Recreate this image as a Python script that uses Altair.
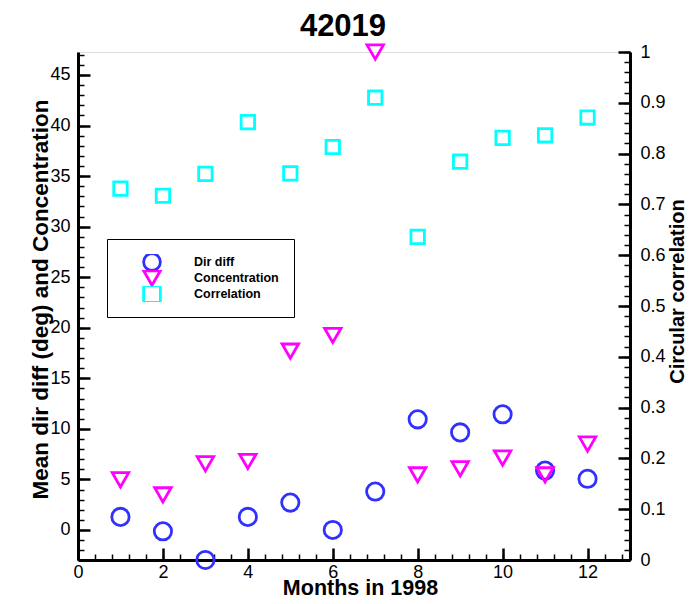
import altair as alt
import pandas as pd

# ---- data ----
MONTHS = [1, 2, 3, 4, 5, 6, 7, 8, 9, 10, 11, 12]
DIR_DIFF = [1.29, -0.13, -2.97, 1.29, 2.71, 0.0, 3.80, 10.94, 9.65, 11.44, 5.88, 5.06]
CONCENTRATION = [4.96, 3.47, 6.55, 6.78, 17.69, 19.24, 47.27, 5.45, 6.05, 7.11, 5.45, 8.50]
CORRELATION = [0.731, 0.717, 0.760, 0.862, 0.761, 0.813, 0.910, 0.636, 0.784, 0.831, 0.836, 0.871]

SERIES = ["Dir diff", "Concentration", "Correlation"]
COLORS = ["#3030ff", "#ff00ff", "#00ffff"]
SHAPES = ["circle", "triangle-down", "square"]

# ---- tick values ----
X_MAJOR = [0, 2, 4, 6, 8, 10, 12]
X_MINOR = [round(i * 0.4, 2) for i in range(0, 33)]
YL_MAJOR = [0, 5, 10, 15, 20, 25, 30, 35, 40, 45]
YL_MINOR = list(range(-2, 48))
YR_MAJOR = [round(i * 0.1, 2) for i in range(0, 11)]
YR_MINOR = [round(i * 0.02, 2) for i in range(0, 51)]

rows = []
for name, vals in zip(SERIES, [DIR_DIFF, CONCENTRATION, CORRELATION]):
    for m, v in zip(MONTHS, vals):
        rows.append({"month": m, "value": v, "series": name})
df = pd.DataFrame(rows)

FONT = "Liberation Sans"
W, H = 552, 508

xscale = alt.Scale(domain=[0, 13], nice=False, zero=False)
ylscale = alt.Scale(nice=False, zero=False)
yrscale = alt.Scale(domain=[0, 1], nice=False, zero=False)

legend = alt.Legend(
    title=None, orient="none", legendX=29, legendY=187,
    strokeColor="black", padding=15, symbolOffset=20, labelOffset=32,
    symbolSize=280, symbolStrokeWidth=2.8, rowPadding=0, clipHeight=16,
    labelFont=FONT, labelFontSize=12.5, labelFontWeight="bold", labelColor="black",
    fillColor="white",
)
color = alt.Color("series:N", scale=alt.Scale(domain=SERIES, range=COLORS), legend=legend)
shape = alt.Shape("series:N", scale=alt.Scale(domain=SERIES, range=SHAPES), legend=legend)


def tick_axis(orient, values, size, width, offset):
    return alt.Axis(orient=orient, values=values, title=None, grid=False,
                    labels=False, domain=False, tickSize=size, tickWidth=width,
                    tickColor="black", offset=offset)


x_label_axis = alt.Axis(
    orient="bottom", values=X_MAJOR, title="Months in 1998", grid=False,
    ticks=False, domainColor="black", domainWidth=3, labelPadding=3,
    labelFlush=False, labelOverlap=False,
    labelFont=FONT, labelFontSize=18, labelColor="black",
    titleFont=FONT, titleFontSize=21.5, titleFontWeight="bold", titleColor="black",
    titleX=282, titleY=34, titleAlign="center", titleBaseline="alphabetic",
)
yl_label_axis = alt.Axis(
    orient="left", values=YL_MAJOR, title="Mean dir diff (deg) and Concentration",
    grid=False, ticks=False, domainColor="black", domainWidth=3, labelPadding=8,
    labelFlush=False, labelOverlap=False,
    labelFont=FONT, labelFontSize=18, labelColor="black",
    titleFont=FONT, titleFontSize=22.5, titleFontWeight="bold", titleColor="black",
    titleX=-31, titleY=247, titleAngle=270, titleAlign="center", titleBaseline="alphabetic",
)
yr_label_axis = alt.Axis(
    orient="right", values=YR_MAJOR, format="~g", title="Circular correlation",
    grid=False, ticks=False, domainColor="black", domainWidth=3, labelPadding=10,
    labelFlush=False, labelOverlap=False,
    labelFont=FONT, labelFontSize=18, labelColor="black",
    titleFont=FONT, titleFontSize=20, titleFontWeight="bold", titleColor="black",
    titleX=53, titleY=239, titleAngle=270, titleAlign="center", titleBaseline="alphabetic",
)

base = alt.Chart(df)
lr_filter = (alt.datum.series == "Dir diff") | (alt.datum.series == "Concentration")

circles = base.transform_filter(alt.datum.series == "Dir diff").mark_point(
    filled=False, size=300, strokeWidth=2.8, opacity=1
).encode(
    x=alt.X("month:Q", scale=xscale, axis=x_label_axis),
    y=alt.Y("value:Q", scale=ylscale, axis=yl_label_axis),
    color=color, shape=shape,
)
triangles = base.transform_filter(alt.datum.series == "Concentration").mark_point(
    filled=False, size=270, strokeWidth=2.8, opacity=1
).encode(
    x=alt.X("month:Q", scale=xscale, axis=None),
    y=alt.Y("value:Q", scale=ylscale, axis=None),
    color=color, shape=shape,
)
left_major = base.transform_filter(lr_filter).mark_point(opacity=0).encode(
    x=alt.X("month:Q", scale=xscale, axis=tick_axis("top", X_MAJOR, 12, 2.5, -H)),
    y=alt.Y("value:Q", scale=ylscale, axis=tick_axis("right", YL_MAJOR, 12, 2.5, -W)),
)
left_minor = base.transform_filter(lr_filter).mark_point(opacity=0).encode(
    x=alt.X("month:Q", scale=xscale, axis=tick_axis("top", X_MINOR, 6, 1.5, -H)),
    y=alt.Y("value:Q", scale=ylscale, axis=tick_axis("right", YL_MINOR, 6, 1.5, -W)),
)
squares = base.transform_filter(alt.datum.series == "Correlation").mark_point(
    filled=False, size=180, strokeWidth=2.8, opacity=1
).encode(
    x=alt.X("month:Q", scale=xscale, axis=None),
    y=alt.Y("value:Q", scale=yrscale, axis=yr_label_axis),
    color=color, shape=shape,
)
right_major = base.transform_filter(alt.datum.series == "Correlation").mark_point(opacity=0).encode(
    x=alt.X("month:Q", scale=xscale, axis=None),
    y=alt.Y("value:Q", scale=yrscale, axis=tick_axis("left", YR_MAJOR, 12, 2.5, -W)),
)
right_minor = base.transform_filter(alt.datum.series == "Correlation").mark_point(opacity=0).encode(
    x=alt.X("month:Q", scale=xscale, axis=None),
    y=alt.Y("value:Q", scale=yrscale, axis=tick_axis("left", YR_MINOR, 6, 1.5, -W)),
)

left = alt.layer(circles, triangles, left_major, left_minor).resolve_axis(
    x="independent", y="independent")
right = alt.layer(squares, right_major, right_minor).resolve_axis(y="independent")

chart = alt.layer(left, right).resolve_scale(y="independent").properties(
    width=W, height=H,
    autosize=alt.AutoSizeParams(type="none"),
    padding={"left": 70, "top": 44, "right": 57, "bottom": 36},
    title=alt.Title("42019", font=FONT, fontSize=31, fontWeight="bold",
                    color="black", anchor="middle", dx=-11, offset=-4),
).configure_view(stroke=None).configure(background="white")

chart.save("out.html", embed_options={"renderer": "svg", "actions": False})
